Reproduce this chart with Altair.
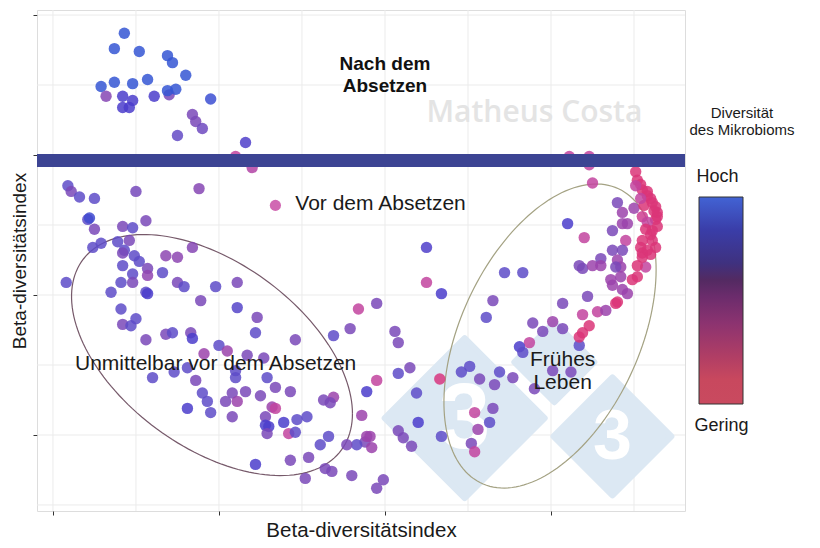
import numpy as np
import pandas as pd
import altair as alt

FONT = "Liberation Sans"

# diversity classes (1 = high / blue, 0 = low / red)
B, I, V, P, M, K, R = 0.95, 0.85, 0.72, 0.6, 0.45, 0.32, 0.15

# ---- "Nach dem Absetzen" (after weaning) ----
TOP_X = [0.70, 0.43, 0.37, 0.52, 0.69, 0.72, 0.80, 0.29, 0.37, 0.48, 0.57, 0.69, 0.74,
         0.32, 0.42, 0.48, 0.42, 0.46, 0.61, 0.95, 0.84, 0.86, 0.90, 0.75, 1.16, 1.10, 1.20]
TOP_Y = [2.43, 2.87, 2.76, 2.74, 2.71, 2.66, 2.57, 2.49, 2.52, 2.51, 2.54, 2.46, 2.47,
         2.42, 2.42, 2.39, 2.34, 2.34, 2.42, 2.40, 2.29, 2.24, 2.19, 2.14, 2.09, 1.99, 1.91]
TOP_D = [P, B, B, B, B, B, B, B, B, B, B, B, B,
         0.55, I, I, I, I, I, 0.92, P, P, 0.66, 0.7, 0.82, K, 0.38]

# ---- "Unmittelbar vor dem Absetzen" (immediately before weaning) ----
LEFT_X = [0.09, 0.11, 0.16, 0.25, 0.50, 0.88, 0.21, 0.22, 0.25, 0.42,
          0.48, 0.56, 0.24, 0.29, 0.39, 0.46, 0.43, 0.42, 0.49, 0.52,
          0.68, 0.75, 0.84, 0.42, 0.57, 0.57, 0.48, 0.48, 0.41, 0.66,
          0.75, 0.79, 0.98, 1.11, 1.11, 0.08, 0.35, 0.56, 0.57, 0.89,
          0.41, 0.50, 0.42, 0.47, 0.56, 0.68, 0.72, 0.83, 0.84, 1.23,
          1.22, 1.00, 0.91, 1.05, 1.17, 1.27, 0.73, 0.86, 0.90, 0.93,
          0.95, 0.81, 1.04, 1.08, 1.11, 1.16, 1.10, 1.10, 1.29, 1.34,
          1.25, 1.08, 1.28, 1.32, 1.34, 1.28, 1.30, 1.29, 1.39, 1.42,
          1.47, 1.46, 1.53, 1.43, 1.46, 1.69, 1.79, 1.84, 1.95, 1.63,
          1.69, 1.67, 1.66, 1.61, 1.54, 1.43, 1.22, 1.52, 1.64, 1.68,
          1.80, 1.89, 1.95, 1.86, 1.88, 1.83, 1.89, 1.91, 1.92, 1.95, 1.99, 1.77, 0.60, 0.81]
LEFT_Y = [1.78, 1.74, 1.70, 1.69, 1.74, 1.76, 1.54, 1.55, 1.47, 1.49,
          1.48, 1.53, 1.34, 1.37, 1.38, 1.39, 1.32, 1.30, 1.28, 1.24,
          1.28, 1.27, 1.34, 1.21, 1.19, 1.14, 1.15, 1.09, 1.09, 1.16,
          1.09, 1.06, 1.06, 1.09, 0.91, 1.09, 1.02, 1.02, 1.01, 0.96,
          0.90, 0.83, 0.79, 0.78, 0.68, 0.72, 0.73, 0.73, 0.69, 0.84,
          0.73, 0.64, 0.58, 0.60, 0.57, 0.55, 0.45, 0.39, 0.30, 0.24,
          0.16, 0.19, 0.24, 0.30, 0.24, 0.31, 0.46, 0.41, 0.41, 0.34,
          0.28, 0.13, 0.13, 0.20, 0.19, 0.07, 0.06, 0.01, 0.09, 0.01,
          0.11, 0.02, 0.13, 0.31, 0.68, 0.71, 0.76, 0.90, 0.94, 0.25,
          0.27, 0.23, -0.01, -0.07, -0.16, -0.18, -0.21, -0.31, -0.24, -0.26,
          -0.29, 0.31, 0.39, 0.14, -0.05, -0.07, -0.01, -0.01, -0.09, -0.38, -0.32, -0.07, 0.41, 0.48]
LEFT_D = [V, P, V, V, 0.62, 0.55, V, 0.9, P, P,
          V, P, V, V, V, P, V, P, V, V,
          0.52, 0.52, 0.55, V, P, 0.5, V, P, V, V,
          P, V, V, P, 0.78, V, V, V, I, P,
          V, V, P, V, P, P, V, P, I, P,
          V, V, M, M, P, P, V, P, V, V,
          V, I, P, P, M, P, V, V, V, P,
          P, P, P, M, K, I, I, P, I, K,
          V, V, V, P, P, V, P, K, P, P,
          M, P, V, V, P, P, I, P, P, P,
          P, I, K, M, P, V, M, M, M, P, P, P, V, V]

# ---- "Frühes Leben" (early life) and in-between samples ----
RIGHT_X = [2.25, 2.25, 2.34, 2.06, 2.08, 2.08, 2.15, 2.33, 2.19, 2.20,
           2.08, 2.11, 2.16, 2.34, 2.72, 2.83, 2.65, 2.61, 2.89, 2.95,
           3.01, 2.87, 2.81, 2.83, 2.46, 2.51, 2.57, 2.66, 2.69, 2.77,
           2.90, 2.65, 2.54, 2.63, 2.56, 2.52, 2.54, 3.07, 3.07, 3.17,
           3.17, 3.19, 3.23, 3.19, 3.28, 3.33, 3.39, 3.01, 3.12, 3.11,
           3.23, 3.23, 3.25, 3.10, 3.20, 3.40, 3.43, 3.50, 3.43, 3.46,
           3.37, 3.45, 3.37, 3.43, 3.40, 3.42, 3.39, 3.17, 3.19, 3.25,
           3.30, 3.30, 3.36, 3.37, 3.42, 3.43, 3.46, 3.40, 3.22, 3.49,
           3.52, 3.57, 3.51, 3.52, 3.54, 3.55, 3.58, 3.60, 3.61, 3.63,
           3.64, 3.64, 3.63, 3.64, 3.55, 3.58, 3.57, 3.60, 3.55, 3.61,
           3.63, 3.54, 3.55, 3.55, 3.58, 3.60, 3.58, 3.56, 3.54, 3.61,
           3.52, 3.62, 3.51]
RIGHT_Y = [1.34, 1.09, 1.01, 0.74, 0.66, 0.44, 0.48, 0.40, 0.30, 0.09,
           0.03, -0.02, -0.08, -0.01, 1.16, 1.16, 0.96, 0.84, 0.80, 0.74,
           0.81, 0.66, 0.63, 0.59, 0.45, 0.49, 0.40, 0.36, 0.45, 0.41,
           0.33, 0.19, 0.16, 0.09, 0.04, -0.06, -0.12, 0.94, 0.76, 0.64,
           0.70, 0.73, 0.78, 0.86, 0.88, 0.89, 0.94, 0.46, 0.45, 1.99,
           1.99, 1.93, 1.80, 1.51, 1.41, 1.66, 1.59, 1.62, 1.51, 1.51,
           1.46, 1.39, 1.32, 1.32, 1.25, 1.20, 1.20, 1.21, 1.19, 1.21,
           1.26, 1.21, 1.11, 1.07, 1.13, 1.04, 1.01, 0.95, 0.99, 1.11,
           1.13, 1.20, 1.88, 1.82, 1.79, 1.75, 1.71, 1.69, 1.66, 1.63,
           1.59, 1.56, 1.54, 1.49, 1.56, 1.52, 1.47, 1.43, 1.39, 1.39,
           1.34, 1.34, 1.30, 1.27, 1.32, 1.29, 1.74, 1.64, 1.69, 1.46,
           1.21, 1.60, 1.78]
RIGHT_D = [0.82, K, I, P, P, V, P, 0.18, V, I,
           P, P, P, V, V, V, P, V, P, P,
           M, K, I, V, V, V, P, P, V, P,
           P, P, K, V, M, P, K, P, P, V,
           R, R, R, K, K, M, R, P, P, K,
           K, K, K, I, K, P, M, M, M, M,
           P, K, P, P, M, M, P, P, P, M,
           P, M, M, M, M, M, M, R, P, R,
           R, K, R, R, R, R, R, R, R, R,
           R, R, R, R, 0.25, K, R, R, R, R,
           R, R, R, R, R, R, R, R, K, R,
           R, R, K]

# colour scale of the points
DIV_STOPS = [0.15, 0.32, 0.45, 0.6, 0.72, 0.85, 0.95]
DIV_COLORS = ["#da3578", "#c2449f", "#9b43ab", "#7a49b8", "#5e4cc8", "#4b3dcb", "#3556d4"]

# axes
X_DOMAIN = [-0.096, 3.807]
Y_DOMAIN = [-0.543, 3.036]
X_TICKS = [0, 1, 2, 3]
Y_TICKS = [0, 1, 2, 3]
GRID_X = [0, 0.5, 1, 1.5, 2, 2.5, 3, 3.5]
GRID_Y = [-0.5, 0, 0.5, 1, 1.5, 2, 2.5, 3]

# ellipses (centre, sd, correlation)
ELL_LEFT = dict(cx=0.958, cy=0.571, sx=0.846, sy=0.861, r=-0.486)
ELL_RIGHT = dict(cx=2.994, cy=0.707, sx=0.639, sy=1.086, r=0.436)

BAND_Y = [1.96]

# annotations (y = first line of multi-line texts)
ANN_BOLD = dict(x=[2.0], y=[2.65], t=["Nach dem\nAbsetzen"])
ANN_NORMAL = dict(x=[0.98, 3.07], y=[0.51, 0.536], t=["Unmittelbar vor dem Absetzen", "Frühes\nLeben"])
LEG_POINT = dict(x=[1.34], y=[1.64])
LEG_TEXT = dict(x=[1.46], y=[1.65], t=["Vor dem Absetzen"])
WATERMARK = dict(x=[2.90], y=[2.30], t=["Matheus Costa"])
LOGO_X = [2.48, 3.02, 3.37]
LOGO_Y = [0.12, 0.52, -0.01]

XS = alt.Scale(domain=X_DOMAIN, nice=False, zero=False)
YS = alt.Scale(domain=Y_DOMAIN, nice=False, zero=False)
XAX = alt.Axis(values=X_TICKS, labels=False, grid=False, domain=False, ticks=True,
               tickSize=4, tickColor="#333333", title="Beta-diversitätsindex",
               titleFontSize=20.5, titleFontWeight="normal", titleColor="#1a1a1a",
               titlePadding=5, titleFont=FONT)
YAX = alt.Axis(values=Y_TICKS, labels=False, grid=False, domain=False, ticks=True,
               tickSize=4, tickColor="#333333", title="Beta-diversitätsindex",
               titleFontSize=19, titleFontWeight="normal", titleColor="#1a1a1a",
               titlePadding=3, titleFont=FONT)


def X(f="x"):
    return alt.X(f"{f}:Q", scale=XS, axis=XAX)


def Y(f="y"):
    return alt.Y(f"{f}:Q", scale=YS, axis=YAX)


pts = pd.DataFrame({
    "x": TOP_X + LEFT_X + RIGHT_X,
    "y": TOP_Y + LEFT_Y + RIGHT_Y,
    "d": TOP_D + LEFT_D + RIGHT_D,
})


def ellipse_df(e, n=160):
    t = np.linspace(0, 2 * np.pi, n)
    xs = e["cx"] + e["sx"] * np.cos(t)
    ys = e["cy"] + e["sy"] * (e["r"] * np.cos(t) + np.sqrt(1 - e["r"] ** 2) * np.sin(t))
    return pd.DataFrame({"x": xs, "y": ys, "i": np.arange(n)})


grid_x = alt.Chart(pd.DataFrame({"x": GRID_X})).mark_rule(color="#ebebeb", strokeWidth=1).encode(x=X())
grid_y = alt.Chart(pd.DataFrame({"y": GRID_Y})).mark_rule(color="#ebebeb", strokeWidth=1).encode(y=Y())

logo_layers = []
LOGO_SIZE = [25600, 6400, 13900]
LOGO_FONT = [92, 0, 70]
for lx, ly, s, fs in zip(LOGO_X, LOGO_Y, LOGO_SIZE, LOGO_FONT):
    d = pd.DataFrame({"x": [lx], "y": [ly]})
    logo_layers.append(
        alt.Chart(d).mark_point(shape="diamond", filled=True, fill="#dce8f3", opacity=1,
                                size=s, stroke="#dce8f3", strokeWidth=6, strokeJoin="round")
        .encode(x=X(), y=Y()))
    if fs > 0:
        logo_layers.append(
            alt.Chart(d).mark_text(text="3", font=FONT, fontWeight="bold", fontSize=fs,
                                   color="white", baseline="middle", align="center", dy=2)
            .encode(x=X(), y=Y()))

ell_l = alt.Chart(ellipse_df(ELL_LEFT)).mark_line(color="#76596a", strokeWidth=1.2).encode(
    x=X(), y=Y(), order="i:Q")
ell_r = alt.Chart(ellipse_df(ELL_RIGHT)).mark_line(color="#a4a283", strokeWidth=1.2).encode(
    x=X(), y=Y(), order="i:Q")

points = alt.Chart(pts).mark_circle(size=130, opacity=0.85).encode(
    x=X(), y=Y(),
    color=alt.Color("d:Q", scale=alt.Scale(domain=DIV_STOPS, range=DIV_COLORS), legend=None),
)

band = alt.Chart(pd.DataFrame({"y": BAND_Y})).mark_rule(color="#3c4493", strokeWidth=13).encode(y=Y())

txt_bold = alt.Chart(pd.DataFrame(ANN_BOLD)).mark_text(
    font=FONT, fontSize=19, fontWeight="bold", color="#111111", lineBreak="\n",
    lineHeight=22, align="center", baseline="middle").encode(x=X(), y=Y(), text="t:N")
txt_norm = alt.Chart(pd.DataFrame(ANN_NORMAL)).mark_text(
    font=FONT, fontSize=21, color="#1a1a1a", lineBreak="\n", lineHeight=23,
    align="center", baseline="middle").encode(x=X(), y=Y(), text="t:N")
leg_pt = alt.Chart(pd.DataFrame(LEG_POINT)).mark_circle(size=125, opacity=0.85, color="#c94fa6").encode(
    x=X(), y=Y())
leg_txt = alt.Chart(pd.DataFrame(LEG_TEXT)).mark_text(
    font=FONT, fontSize=21, color="#1a1a1a", align="left", baseline="middle").encode(
    x=X(), y=Y(), text="t:N")
wm = alt.Chart(pd.DataFrame(WATERMARK)).mark_text(
    font="Open Sans", fontSize=30, fontWeight=600, color="#e4e4e4",
    align="center", baseline="middle").encode(x=X(), y=Y(), text="t:N")

# colour bar legend (drawn outside the plot area)
one = pd.DataFrame({"a": [0]})
cbar = alt.Chart(one).mark_rect(
    fill=alt.Gradient(gradient="linear", x1=0, x2=0, y1=0, y2=1, stops=[
        alt.GradientStop(offset=0.0, color="#4263d4"),
        alt.GradientStop(offset=0.16, color="#3a3da8"),
        alt.GradientStop(offset=0.32, color="#3f317f"),
        alt.GradientStop(offset=0.40, color="#532a62"),
        alt.GradientStop(offset=0.48, color="#6b2c6c"),
        alt.GradientStop(offset=0.61, color="#8c3370"),
        alt.GradientStop(offset=0.77, color="#b03e65"),
        alt.GradientStop(offset=0.88, color="#c8485e"),
        alt.GradientStop(offset=1.0, color="#c94a5f"),
    ]), stroke="#333333", strokeWidth=1).encode(
    x=alt.value(662), x2=alt.value(706), y=alt.value(187), y2=alt.value(394))
leg_title = alt.Chart(one).mark_text(
    text="Diversität\ndes Mikrobioms", lineBreak="\n", font=FONT, fontSize=15, lineHeight=17,
    color="#1a1a1a", align="center", baseline="middle").encode(x=alt.value(705), y=alt.value(103))
leg_hi = alt.Chart(one).mark_text(
    text="Hoch", font=FONT, fontSize=18, color="#1a1a1a", align="center", baseline="middle").encode(
    x=alt.value(680.5), y=alt.value(167))
leg_lo = alt.Chart(one).mark_text(
    text="Gering", font=FONT, fontSize=18, color="#1a1a1a", align="center", baseline="middle").encode(
    x=alt.value(684.5), y=alt.value(416))

chart = alt.layer(
    grid_x, grid_y, *logo_layers, ell_l, ell_r, points, band,
    txt_bold, txt_norm, leg_pt, leg_txt, wm, cbar, leg_title, leg_hi, leg_lo,
).properties(
    width=648, height=501,
    padding={"left": 29, "top": 2, "right": 120, "bottom": 35},
    autosize="none",
).configure_view(
    stroke="#4d4d4d", strokeWidth=1.5
).configure(font=FONT, background="white")

chart.save("out.html", embed_options={"renderer": "svg", "actions": False})
